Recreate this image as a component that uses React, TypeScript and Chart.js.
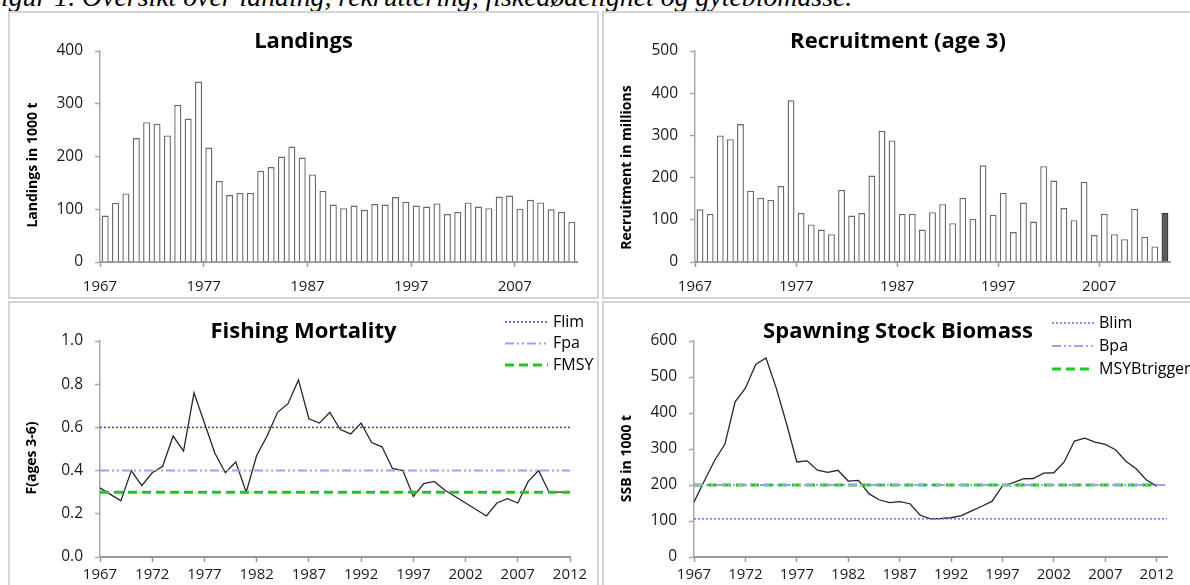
import React, { useEffect, useRef } from 'react';
import { Chart, registerables } from 'chart.js';

Chart.register(...registerables);

// ---------------- DATA ----------------
const landingsYears = [
  1967, 1968, 1969, 1970, 1971, 1972, 1973, 1974, 1975, 1976,
  1977, 1978, 1979, 1980, 1981, 1982, 1983, 1984, 1985, 1986,
  1987, 1988, 1989, 1990, 1991, 1992, 1993, 1994, 1995, 1996,
  1997, 1998, 1999, 2000, 2001, 2002, 2003, 2004, 2005, 2006,
  2007, 2008, 2009, 2010, 2011, 2012,
];
const landingsValues = [
  88, 112, 130, 235, 265, 262, 240, 298, 272, 342,
  217, 154, 127, 131, 131, 173, 180, 200, 219, 198,
  166, 135, 109, 102, 107, 99, 110, 109, 123, 114,
  107, 105, 111, 91, 95, 113, 105, 102, 124, 126,
  101, 118, 113, 100, 95, 76,
];
const recruitmentYears = [
  1967, 1968, 1969, 1970, 1971, 1972, 1973, 1974, 1975, 1976,
  1977, 1978, 1979, 1980, 1981, 1982, 1983, 1984, 1985, 1986,
  1987, 1988, 1989, 1990, 1991, 1992, 1993, 1994, 1995, 1996,
  1997, 1998, 1999, 2000, 2001, 2002, 2003, 2004, 2005, 2006,
  2007, 2008, 2009, 2010, 2011, 2012, 2013,
];
const recruitmentValues = [
  125, 114, 300, 291, 327, 169, 152, 147, 180, 383,
  116, 89, 77, 66, 171, 110, 116, 205, 311, 288,
  114, 114, 77, 118, 137, 92, 152, 102, 229, 112,
  164, 71, 141, 96, 227, 193, 128, 99, 190, 64,
  114, 66, 54, 126, 60, 37, 117,
];
const recruitmentProjectedYears = [2013];

const fYears = [
  1967, 1968, 1969, 1970, 1971, 1972, 1973, 1974, 1975, 1976,
  1977, 1978, 1979, 1980, 1981, 1982, 1983, 1984, 1985, 1986,
  1987, 1988, 1989, 1990, 1991, 1992, 1993, 1994, 1995, 1996,
  1997, 1998, 1999, 2000, 2001, 2002, 2003, 2004, 2005, 2006,
  2007, 2008, 2009, 2010, 2011, 2012,
];
const fValues = [
  0.32, 0.29, 0.26, 0.40, 0.33, 0.39, 0.42, 0.56, 0.49, 0.76,
  0.62, 0.48, 0.39, 0.44, 0.30, 0.47, 0.56, 0.67, 0.71, 0.82,
  0.64, 0.62, 0.67, 0.59, 0.57, 0.62, 0.53, 0.51, 0.41, 0.40,
  0.28, 0.34, 0.35, 0.31, 0.28, 0.25, 0.22, 0.19, 0.25, 0.27,
  0.25, 0.35, 0.40, 0.30, 0.30, 0.30,
];
const ssbYears = fYears;
const ssbValues = [
  153, 211, 268, 313, 431, 469, 535, 553, 469, 370,
  264, 267, 241, 235, 241, 211, 213, 176, 159, 151,
  154, 148, 116, 106, 107, 109, 115, 128, 141, 155,
  198, 206, 217, 218, 233, 234, 264, 322, 330, 319,
  313, 298, 266, 245, 214, 197,
];

// reference points
const FLIM = 0.6;
const FPA = 0.4;
const FMSY = 0.3;
const fRefYears = [1967, 2012];
const BLIM = 106;
const BPA = 200;
const MSY_BTRIGGER = 200;
const bLimPaYears = [1967, 2013];
const bMsyYears = [1967, 2012];

// tick labels
const barTickYears = [1967, 1977, 1987, 1997, 2007];
const lineTickYears = [1967, 1972, 1977, 1982, 1987, 1992, 1997, 2002, 2007, 2012];

// ---------------- STYLE ----------------
const FONT = "'Open Sans', sans-serif";
const AXIS_X = '#9a9a9a';
const AXIS_Y = '#a8a8a8';
const TICK_TXT = '#1a1a1a';

const axisTitlePlugin = {
  id: 'axisTitle',
  afterDraw(chart: any, _args: any, opts: any) {
    if (!opts || !opts.text) return;
    const { ctx } = chart;
    ctx.save();
    ctx.translate(opts.x, opts.y);
    ctx.rotate(-Math.PI / 2);
    ctx.font = `bold ${opts.size}px ${FONT}`;
    ctx.fillStyle = '#000';
    ctx.textAlign = 'center';
    ctx.textBaseline = 'middle';
    ctx.fillText(opts.text, 0, 0);
    ctx.restore();
  },
};

const refLegendPlugin = {
  id: 'refLegend',
  afterDraw(chart: any, _args: any, opts: any) {
    if (!opts || !opts.items) return;
    const { ctx } = chart;
    opts.items.forEach((idx: number, i: number) => {
      const ds = chart.data.datasets[idx];
      const y = opts.top + i * opts.rowHeight;
      ctx.save();
      ctx.strokeStyle = ds.borderColor;
      ctx.lineWidth = ds.borderWidth;
      ctx.setLineDash(ds.borderDash || []);
      ctx.beginPath();
      ctx.moveTo(opts.x0, y);
      ctx.lineTo(opts.x1, y);
      ctx.stroke();
      ctx.setLineDash([]);
      ctx.fillStyle = '#000';
      ctx.font = `${opts.size}px ${FONT}`;
      ctx.textAlign = 'left';
      ctx.textBaseline = 'middle';
      ctx.fillText(ds.label, opts.x1 + opts.gap, y);
      ctx.restore();
    });
  },
};

type AxisCfg = {
  title: string;
  xMin: number;
  xMax: number;
  xTickPos: number[];
  xLabel: (v: number) => string;
  xAxisHeight: number;
  xLabelPad: number;
  yMax: number;
  yStep: number;
  yFmt: (v: number) => string;
  sidePad: number;
  yWidth: number;
  axisTitle: any;
  legend?: any;
};

function buildOptions(c: AxisCfg): any {
  return {
    responsive: false,
    animation: false,
    layout: { padding: { left: c.sidePad, right: c.sidePad, top: 0, bottom: 0 } },
    plugins: {
      legend: { display: false },
      tooltip: { enabled: false },
      title: {
        display: true,
        text: c.title,
        color: '#000',
        font: { family: FONT, size: 22, weight: 'bold' },
        padding: { top: 16, bottom: -4.4 },
      },
      axisTitle: c.axisTitle,
      refLegend: c.legend || {},
    },
    scales: {
      x: {
        type: 'linear',
        min: c.xMin,
        max: c.xMax,
        offset: false,
        afterBuildTicks: (s: any) => {
          s.ticks = c.xTickPos.map((v) => ({ value: v }));
        },
        afterFit: (s: any) => {
          s.height = c.xAxisHeight;
        },
        grid: {
          display: true,
          offset: false,
          drawOnChartArea: false,
          drawTicks: true,
          tickLength: 5,
          tickColor: AXIS_X,
          tickWidth: 1.5,
        },
        border: { display: true, color: AXIS_X, width: 2 },
        ticks: {
          autoSkip: false,
          maxRotation: 0,
          minRotation: 0,
          padding: c.xLabelPad,
          color: TICK_TXT,
          font: { family: FONT, size: 15 },
          callback: (v: number) => c.xLabel(v),
        },
      },
      y: {
        type: 'linear',
        min: 0,
        max: c.yMax,
        afterFit: (s: any) => {
          s.width = c.yWidth;
        },
        grid: {
          display: true,
          drawOnChartArea: false,
          drawTicks: true,
          tickLength: 5,
          tickColor: AXIS_Y,
          tickWidth: 1.5,
        },
        border: { display: true, color: AXIS_Y, width: 1.5 },
        ticks: {
          stepSize: c.yStep,
          autoSkip: false,
          padding: 12,
          color: TICK_TXT,
          font: { family: FONT, size: 15.5 },
          callback: (v: number) => c.yFmt(v),
        },
      },
    },
  };
}

const barXLabel = (v: number) => String(Math.round(v + 0.5));
const lineXLabel = (v: number) => String(Math.round(v));

function landingsConfig(): any {
  return {
    type: 'bar',
    data: {
      datasets: [
        {
          label: 'Landings',
          data: landingsYears.map((y, i) => ({ x: y, y: landingsValues[i] })),
          backgroundColor: '#ffffff',
          borderColor: '#6a6a6a',
          borderWidth: 1.4,
          categoryPercentage: 1,
          barPercentage: 0.68,
        },
      ],
    },
    options: buildOptions({
      title: 'Landings',
      xMin: landingsYears[0] - 0.5,
      xMax: landingsYears[landingsYears.length - 1] + 0.5,
      xTickPos: barTickYears.map((y) => y - 0.5),
      xLabel: barXLabel,
      xAxisHeight: 35,
      xLabelPad: 11,
      yMax: 400,
      yStep: 100,
      yFmt: (v) => String(v),
      sidePad: 20,
      yWidth: 70,
      axisTitle: { text: 'Landings in 1000 t', x: 23, y: 152, size: 14 },
    }),
    plugins: [axisTitlePlugin, refLegendPlugin],
  };
}

function recruitmentConfig(): any {
  return {
    type: 'bar',
    data: {
      datasets: [
        {
          label: 'Recruitment',
          data: recruitmentYears.map((y, i) => ({ x: y, y: recruitmentValues[i] })),
          backgroundColor: recruitmentYears.map((y) =>
            recruitmentProjectedYears.includes(y) ? '#5a5a5a' : '#ffffff'
          ),
          borderColor: recruitmentYears.map((y) =>
            recruitmentProjectedYears.includes(y) ? '#3a3a3a' : '#6a6a6a'
          ),
          borderWidth: 1.4,
          categoryPercentage: 1,
          barPercentage: 0.68,
        },
      ],
    },
    options: buildOptions({
      title: 'Recruitment (age 3)',
      xMin: recruitmentYears[0] - 0.5,
      xMax: recruitmentYears[recruitmentYears.length - 1] + 0.5,
      xTickPos: barTickYears.map((y) => y - 0.5),
      xLabel: barXLabel,
      xAxisHeight: 35,
      xLabelPad: 11,
      yMax: 500,
      yStep: 100,
      yFmt: (v) => String(v),
      sidePad: 22,
      yWidth: 69,
      axisTitle: { text: 'Recruitment in millions', x: 23, y: 154.5, size: 14 },
    }),
    plugins: [axisTitlePlugin, refLegendPlugin],
  };
}

const dataLine = {
  borderColor: '#262626',
  borderWidth: 1.3,
  pointRadius: 0,
  tension: 0,
  order: 1,
};

function refLine(label: string, years: number[], value: number, color: string, width: number, dash: number[]) {
  return {
    label,
    data: years.map((y) => ({ x: y, y: value })),
    borderColor: color,
    borderWidth: width,
    borderDash: dash,
    pointRadius: 0,
    order: 0,
  };
}

const DOT = [2, 2];
const DASH_DOT_DOT = [9, 3, 2, 3, 2, 3];
const DASH = [9, 5];

function fishingConfig(): any {
  return {
    type: 'line',
    data: {
      datasets: [
        { label: 'F', data: fYears.map((y, i) => ({ x: y, y: fValues[i] })), ...dataLine },
        refLine('Flim', fRefYears, FLIM, '#3d3df2', 1.5, DOT),
        refLine('Fpa', fRefYears, FPA, '#9c9cff', 2, DASH_DOT_DOT),
        refLine('FMSY', fRefYears, FMSY, '#1ec81e', 3, DASH),
      ],
    },
    options: buildOptions({
      title: 'Fishing Mortality',
      xMin: fYears[0],
      xMax: fRefYears[1],
      xTickPos: lineTickYears,
      xLabel: lineXLabel,
      xAxisHeight: 32,
      xLabelPad: 4,
      yMax: 1,
      yStep: 0.2,
      yFmt: (v) => v.toFixed(1),
      sidePad: 27,
      yWidth: 63,
      axisTitle: { text: 'F(ages 3-6)', x: 22.5, y: 155, size: 14 },
      legend: { items: [1, 2, 3], x0: 495, x1: 538, gap: 5, top: 19, rowHeight: 21.5, size: 16 },
    }),
    plugins: [axisTitlePlugin, refLegendPlugin],
  };
}

function ssbConfig(): any {
  return {
    type: 'line',
    data: {
      datasets: [
        { label: 'SSB', data: ssbYears.map((y, i) => ({ x: y, y: ssbValues[i] })), ...dataLine },
        refLine('Blim', bLimPaYears, BLIM, '#6a6aff', 1.5, DOT),
        refLine('Bpa', bLimPaYears, BPA, '#a0a0f0', 2, DASH_DOT_DOT),
        refLine('MSYBtrigger', bMsyYears, MSY_BTRIGGER, '#1ec81e', 3, DASH),
      ],
    },
    options: buildOptions({
      title: 'Spawning Stock Biomass',
      xMin: ssbYears[0],
      xMax: bLimPaYears[1],
      xTickPos: lineTickYears,
      xLabel: lineXLabel,
      xAxisHeight: 32,
      xLabelPad: 4,
      yMax: 600,
      yStep: 100,
      yFmt: (v) => String(v),
      sidePad: 25,
      yWidth: 65,
      axisTitle: { text: 'SSB in 1000 t', x: 23.5, y: 155.5, size: 14 },
      legend: { items: [1, 2, 3], x0: 448, x1: 490, gap: 5, top: 20, rowHeight: 23, size: 16 },
    }),
    plugins: [axisTitlePlugin, refLegendPlugin],
  };
}

function ChartPanel(props: { left: number; top: number; width: number; height: number; build: () => any }) {
  const { left, top, width, height, build } = props;
  const ref = useRef<HTMLCanvasElement | null>(null);
  const cw = width - 4;
  const ch = height - 4;
  useEffect(() => {
    if (!ref.current) return;
    const chart = new Chart(ref.current, build());
    return () => chart.destroy();
  }, []);
  return (
    <div
      style={{
        position: 'absolute',
        left,
        top,
        width,
        height,
        border: '2px solid #d4d4d4',
        boxSizing: 'border-box',
        background: '#fff',
      }}
    >
      <canvas ref={ref} width={cw} height={ch} style={{ display: 'block', width: cw, height: ch }} />
    </div>
  );
}

export default function App() {
  return (
    <div
      style={{
        position: 'fixed',
        left: 0,
        top: 0,
        width: 1190,
        height: 585,
        overflow: 'hidden',
        background: '#fff',
      }}
    >
      <div
        style={{
          position: 'absolute',
          left: -16,
          top: -17,
          whiteSpace: 'nowrap',
          fontFamily: "'Liberation Serif', serif",
          fontStyle: 'italic',
          fontSize: 27.8,
          lineHeight: 1,
          color: '#000',
        }}
      >
        Figur 1. Oversikt over landing, rekruttering, fiskedødelighet og gytebiomasse.
      </div>
      <ChartPanel left={8} top={11} width={591} height={288} build={landingsConfig} />
      <ChartPanel left={602} top={11} width={592} height={288} build={recruitmentConfig} />
      <ChartPanel left={8} top={301} width={591} height={290} build={fishingConfig} />
      <ChartPanel left={602} top={301} width={592} height={290} build={ssbConfig} />
    </div>
  );
}
